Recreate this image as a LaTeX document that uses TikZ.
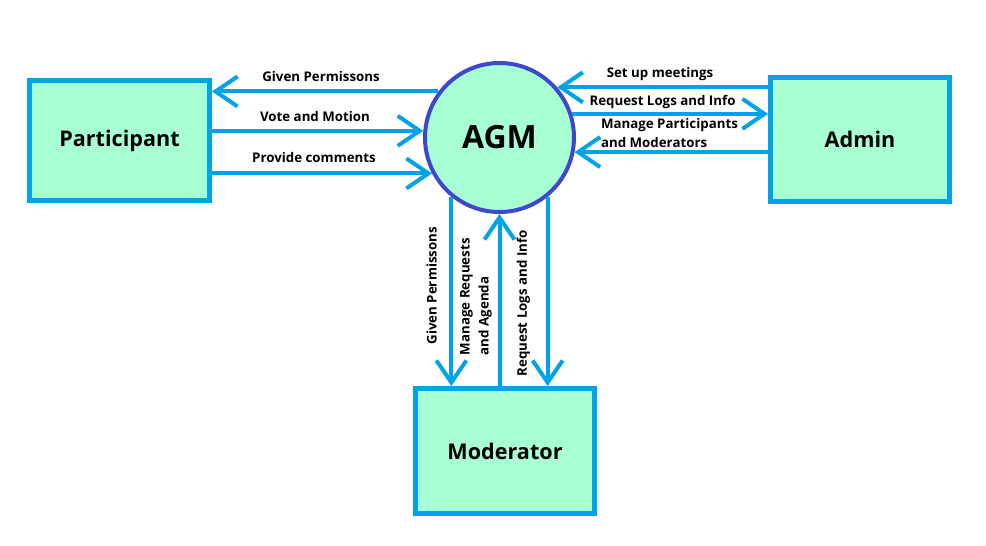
\documentclass[tikz,border=0pt]{standalone}
\usepackage{fontspec}
\setmainfont{Open Sans}
\usetikzlibrary{arrows.meta}
\definecolor{lineblue}{HTML}{00A2E8}
\definecolor{mint}{HTML}{A9FFD4}
\definecolor{indigo}{HTML}{3F48CC}
\begin{document}
\begin{tikzpicture}[x=1pt,y=-1pt,
  entity/.style={rectangle, draw=lineblue, line width=5pt, fill=mint, inner sep=0pt,
    font=\fontsize{21.6}{26}\selectfont\bfseries},
  proc/.style={circle, draw=indigo, line width=4pt, fill=mint, minimum size=149pt, inner sep=0pt,
    font=\fontsize{32}{36}\selectfont\bfseries},
  flow/.style={draw=lineblue, line width=4pt, -{Straight Barb[length=22pt,width=30pt]}},
  lbl/.style={font=\fontsize{13.3}{19}\selectfont\bfseries, inner sep=0pt, align=left}]
\fill[white] (0,0) rectangle (986,546);
\useasboundingbox (0,0) rectangle (986,546);
% nodes
\node[entity, minimum width=180pt, minimum height=120pt] (par) at (119.5,140.5) {Participant};
\node[entity, minimum width=179pt, minimum height=124pt] (adm) at (860,139.5) {Admin};
\node[entity, minimum width=179pt, minimum height=125pt] (mod) at (505,451) {Moderator};
\node[proc] (agm) at (499.5,137.5) {AGM};
% participant flows
\draw[flow] (agm.143.6) -- (agm.143.6 -| par.east);
\draw[flow] (agm.175.5 -| par.east) -- (agm.175.5);
\draw[flow] (agm.208.5 -| par.east) -- (agm.208.5);
% admin flows
\draw[flow] (agm.41.3 -| adm.west) -- (agm.41.3);
\draw[flow] (agm.18.4) -- (agm.18.4 -| adm.west);
\draw[flow] (agm.-11.5 -| adm.west) -- (agm.-11.5);
% moderator flows
\draw[flow] (agm.231.7) -- (agm.231.7 |- mod.north);
\draw[flow] (agm.south |- mod.north) -- (agm.south);
\draw[flow] (agm.309.3) -- (agm.309.3 |- mod.north);
% labels
\node[lbl] (l1) at (321,77) {Given Permissons};
\node[lbl] (l2) at (315,117) {Vote and Motion};
\node[lbl] (l3) at (314,158) {Provide comments};
\node[lbl] (l4) at (660,74) {Set up meetings};
\node[lbl] (l5) at (662.5,102) {Request Logs and Info};
\node[lbl] (l6) at (669.5,133.5) {Manage Participants\\and Moderators};
\node[lbl, rotate=90] (l7) at (431.7,285.8) {Given Permissons};
\node[lbl, rotate=90] (l8) at (476,296.7) {Manage Requests\\and Agenda};
\node[lbl, rotate=90] (l9) at (523.3,303.3) {Request Logs and Info};
\end{tikzpicture}
\end{document}
